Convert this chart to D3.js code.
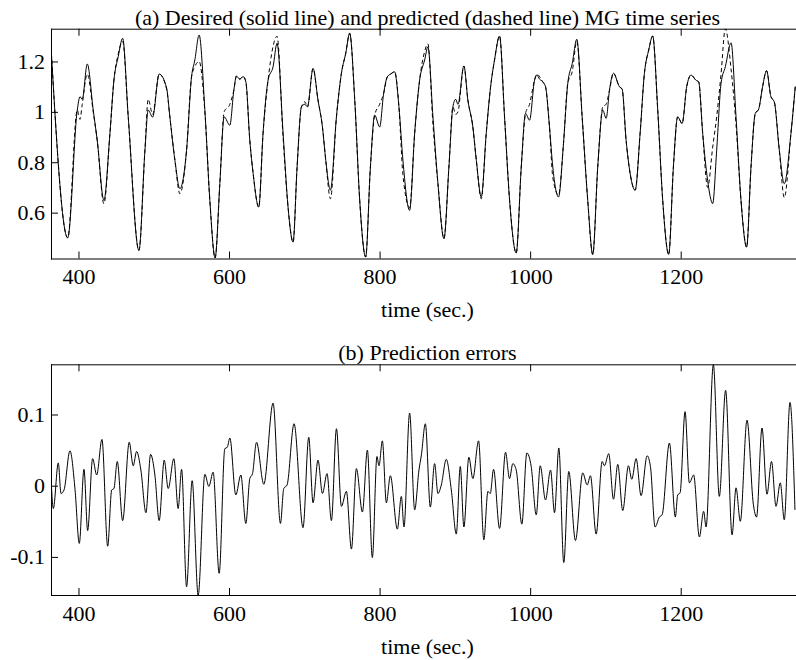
<!DOCTYPE html>
<html>
<head>
<meta charset="utf-8">
<script src="https://cdn.jsdelivr.net/npm/d3@7"></script>
<style>
body { margin: 0; background: #fff; }
text { font-family: "Liberation Serif", "Times New Roman", serif; }
</style>
</head>
<body>
<div id="chart"></div>
<script>

// (a) desired and predicted MG series, time in seconds
var timeA = [363.5,385.7,398.4,402.0,405.0,411.7,419.6,424.9,433.8,441.8,
447.1,452.8,458.7,466.1,480.3,488.3,492.6,498.5,507.2,517.1,
521.4,528.1,534.7,543.6,550.2,554.6,560.3,567.9,574.5,581.5,
587.8,593.5,601.1,606.4,609.9,614.3,618.7,622.3,627.6,632.0,
639.5,645.2,651.9,658.5,663.8,671.8,678.4,685.1,690.4,696.2,
700.6,704.2,711.6,718.2,724.1,728.5,734.7,742.7,749.3,755.0,
760.3,767.0,773.6,781.5,787.8,793.5,800.1,805.4,810.3,814.7,
820.0,825.7,831.0,839.9,846.6,853.2,859.9,864.2,870.9,877.5,
885.5,892.1,897.4,901.0,904.1,912.0,917.3,923.9,928.5,935.1,
941.7,947.5,952.7,959.4,966.0,972.7,981.5,988.2,993.9,999.2,
1005.9,1008.9,1012.5,1016.8,1020.4,1025.7,1030.1,1037.7,1044.3,1050.0,
1055.9,1062.0,1069.1,1076.5,1083.2,1089.8,1096.5,1101.0,1105.4,1110.7,
1118.6,1122.2,1127.5,1132.8,1139.5,1146.1,1151.8,1157.5,1162.8,1169.5,
1176.1,1184.1,1190.3,1196.0,1201.9,1208.0,1213.8,1220.4,1223.9,1229.2,
1235.8,1242.5,1247.8,1253.6,1259.3,1266.9,1273.5,1280.1,1287.6,1293.4,
1299.1,1303.5,1308.8,1314.1,1319.9,1324.3,1331.0,1337.6,1346.5,1352.2];

var desired = [1.26,0.50,1.007,1.06,1.05,1.19,1.007,0.887,0.649,0.915,
1.126,1.219,1.292,0.98,0.45,0.848,1.007,0.979,1.15,1.094,
0.98,0.808,0.695,0.848,1.139,1.206,1.305,1.007,0.649,0.42,
0.716,0.98,0.947,1.086,1.142,1.13,1.14,1.12,0.887,0.756,
0.622,0.915,1.126,1.179,1.272,0.915,0.622,0.483,0.781,1.02,
1.03,1.02,1.172,1.047,0.94,0.808,0.689,0.98,1.153,1.232,
1.312,1.047,0.649,0.424,0.781,0.987,0.94,1.073,1.139,1.15,
1.159,1.02,0.808,0.609,0.915,1.126,1.206,1.258,0.98,0.716,
0.497,0.781,1.02,1.05,1.03,1.182,1.047,0.94,0.808,0.662,
0.915,1.1,1.206,1.301,0.98,0.649,0.44,0.781,0.994,0.967,
1.126,1.146,1.13,1.119,1.10,0.94,0.781,0.662,0.874,1.113,
1.192,1.288,0.98,0.649,0.434,0.781,1.007,0.974,1.086,1.153,
1.1,1.09,0.887,0.756,0.689,0.915,1.153,1.245,1.301,1.007,
0.649,0.434,0.781,0.98,0.954,1.1,1.146,1.125,1.119,0.915,
0.728,0.636,0.848,1.113,1.179,1.274,0.98,0.649,0.463,0.781,
0.994,1.01,1.1,1.163,1.06,1.04,0.848,0.715,0.915,1.1];

var predicted = [1.26,0.50,1.007,0.97,1.03,1.15,1.0,0.887,0.635,0.915,
1.126,1.23,1.28,0.98,0.45,0.848,1.05,0.99,1.15,1.09,
0.98,0.808,0.675,0.848,1.139,1.18,1.2,1.0,0.649,0.42,
0.716,1.0,1.03,1.086,1.142,1.13,1.14,1.12,0.887,0.756,
0.622,0.915,1.126,1.26,1.30,0.9,0.622,0.483,0.781,1.02,
1.04,1.02,1.172,1.047,0.94,0.808,0.655,0.98,1.153,1.232,
1.312,1.047,0.649,0.424,0.781,0.987,1.03,1.073,1.139,1.15,
1.159,1.02,0.75,0.62,0.915,1.126,1.24,1.27,0.95,0.716,
0.497,0.781,1.02,0.99,1.0,1.182,1.047,0.94,0.808,0.655,
0.915,1.1,1.206,1.301,0.98,0.649,0.44,0.781,0.994,1.03,
1.126,1.15,1.14,1.119,1.10,0.94,0.74,0.67,0.874,1.113,
1.16,1.28,0.98,0.649,0.434,0.781,1.02,1.03,1.086,1.153,
1.1,1.09,0.887,0.756,0.689,0.915,1.153,1.245,1.301,1.007,
0.649,0.434,0.781,0.98,0.954,1.1,1.146,1.125,1.119,0.915,
0.70,0.86,0.98,1.15,1.33,1.17,0.95,0.649,0.463,0.781,
0.994,1.01,1.1,1.163,1.06,1.04,0.848,0.66,0.915,1.1];

// (b) prediction errors
var timeB = [363.5,366.6,373.2,376.8,380.8,388.7,395.4,401.1,407.3,412.2,
418.8,424.2,431.2,438.8,444.1,447.1,451.5,458.7,467.4,472.7,
477.2,482.9,489.6,495.8,501.5,507.2,513.9,519.2,526.7,532.4,
537.0,543.6,551.0,559.0,567.9,573.2,578.9,586.9,594.4,597.7,
601.1,609.0,615.7,622.3,627.6,631.2,636.5,646.2,658.5,668.3,
672.7,677.1,686.4,698.3,705.9,711.6,718.2,724.1,730.2,736.0,
742.7,749.3,755.9,762.6,769.2,777.2,783.8,790.4,796.5,799.2,
803.7,809.0,814.3,823.6,828.9,832.4,839.9,846.6,852.3,855.5,
860.8,867.4,873.1,877.5,882.0,888.6,895.3,901.9,907.2,912.0,
918.6,923.9,931.5,938.5,943.9,947.0,951.4,959.4,967.3,972.6,
977.0,981.5,989.0,995.6,1001.4,1008.1,1013.4,1020.4,1027.1,1032.4,
1038.1,1044.7,1051.3,1060.2,1069.9,1075.8,1080.1,1087.7,1095.7,1098.7,
1104.4,1110.7,1116.4,1123.0,1130.6,1135.0,1140.8,1147.4,1155.4,1159.8,
1166.0,1171.7,1175.3,1185.0,1192.9,1196.0,1199.2,1205.8,1211.5,1217.2,
1224.8,1230.5,1233.7,1243.4,1251.3,1259.7,1268.2,1273.5,1279.2,1288.1,
1296.5,1300.8,1308.0,1314.6,1320.7,1326.6,1332.3,1337.6,1345.2,1351.8];

var errors = [0.012,-0.032,0.032,-0.011,-0.006,0.049,-0.005,-0.081,0.023,-0.063,
0.038,0.015,0.065,-0.085,-0.006,-0.004,0.034,-0.049,0.061,0.028,
0.048,0.022,-0.038,0.044,0.015,-0.049,0.036,-0.004,0.038,-0.032,
0.023,-0.142,0.007,-0.154,0.016,-0.001,0.019,-0.123,0.052,0.054,
0.067,-0.013,0.015,-0.053,0.010,0.017,0.061,0.002,0.116,-0.053,
-0.004,0.001,0.087,-0.059,0.068,-0.024,0.036,-0.011,0.017,-0.049,
0.080,-0.029,-0.008,-0.089,0.024,-0.037,0.050,-0.101,0.041,0.028,
0.063,-0.024,0.014,-0.061,-0.015,-0.058,0.102,-0.034,0.022,0.043,
0.087,-0.030,0.031,-0.011,0.001,0.037,-0.006,-0.068,0.027,-0.058,
0.040,0.010,0.063,-0.076,-0.008,-0.011,0.023,-0.060,0.047,0.010,
0.031,0.022,-0.054,0.046,0.027,-0.041,0.028,-0.020,0.022,-0.038,
0.053,-0.108,0.020,-0.077,0.018,0.001,0.014,-0.068,0.034,0.028,
0.045,-0.019,0.030,-0.035,0.028,0.009,0.038,-0.014,0.042,0.027,
-0.058,-0.044,-0.041,0.060,-0.044,-0.013,-0.010,0.104,0.004,0.015,
-0.072,-0.036,-0.058,0.170,-0.015,0.134,-0.069,-0.003,-0.050,0.092,
-0.026,-0.044,0.081,-0.012,0.034,-0.029,0.004,-0.048,0.117,-0.034];

var timeTicks = [400, 600, 800, 1000, 1200];
var ticksA = [0.6, 0.8, 1, 1.2];
var ticksB = [-0.1, 0, 0.1];

var width = 796, height = 660;
var left = 51, right = 804;
var fontSize = "22px";

var svg = d3.select("#chart").append("svg")
	.attr("width", width)
	.attr("height", height);

var x = d3.scaleLinear().domain([363.5, 1363.8]).range([left, right]);

function panel(top, bottom, yDomain, yTicks, title, id) {
	var y = d3.scaleLinear().domain(yDomain).range([bottom, top]);

	svg.append("clipPath").attr("id", id)
		.append("rect")
		.attr("x", left).attr("y", top)
		.attr("width", right - left).attr("height", bottom - top);

	var g = svg.append("g");

	g.append("g")
		.attr("transform", "translate(0," + bottom + ")")
		.call(d3.axisBottom(x).tickValues(timeTicks).tickSize(-7).tickPadding(10).tickFormat(d3.format("d")));
	g.append("g")
		.attr("transform", "translate(0," + top + ")")
		.call(d3.axisTop(x).tickValues(timeTicks).tickSize(-7).tickFormat(""));
	g.append("g")
		.attr("transform", "translate(" + left + ",0)")
		.call(d3.axisLeft(y).tickValues(yTicks).tickSize(-7).tickPadding(6).tickFormat(function (d) { return String(d); }));

	g.selectAll(".domain").remove();
	g.selectAll(".tick line").attr("stroke", "#000");
	g.selectAll(".tick text")
		.attr("fill", "#000")
		.style("font-size", fontSize);

	// box
	g.append("line").attr("x1", left).attr("x2", right).attr("y1", top + 0.5).attr("y2", top + 0.5).attr("stroke", "#000");
	g.append("line").attr("x1", left).attr("x2", right).attr("y1", bottom + 0.5).attr("y2", bottom + 0.5).attr("stroke", "#000");
	g.append("line").attr("x1", left + 0.5).attr("x2", left + 0.5).attr("y1", top).attr("y2", bottom + 1).attr("stroke", "#000");

	g.append("text")
		.attr("x", (left + right) / 2)
		.attr("y", top - 4)
		.attr("text-anchor", "middle")
		.style("font-size", fontSize)
		.text(title);

	g.append("text")
		.attr("x", (left + right) / 2)
		.attr("y", bottom + 58.5)
		.attr("text-anchor", "middle")
		.style("font-size", fontSize)
		.text("time (sec.)");

	return { y: y, g: g };
}

var pa = panel(28.7, 258.5, [0.418, 1.33], ticksA,
	"(a) Desired (solid line) and predicted (dashed line) MG time series", "clipA");
var pb = panel(364.3, 595, [-0.1535, 0.1705], ticksB,
	"(b) Prediction errors", "clipB");

var lineA = d3.line()
	.x(function (d) { return x(d[0]); })
	.y(function (d) { return pa.y(d[1]); })
	.curve(d3.curveMonotoneX);

var lineB = d3.line()
	.x(function (d) { return x(d[0]); })
	.y(function (d) { return pb.y(d[1]); })
	.curve(d3.curveMonotoneX);

pa.g.append("path")
	.datum(d3.zip(timeA, predicted))
	.attr("clip-path", "url(#clipA)")
	.attr("fill", "none")
	.attr("stroke", "#000")
	.attr("stroke-width", 1)
	.attr("stroke-dasharray", "4,3")
	.attr("d", lineA);

pa.g.append("path")
	.datum(d3.zip(timeA, desired))
	.attr("clip-path", "url(#clipA)")
	.attr("fill", "none")
	.attr("stroke", "#000")
	.attr("stroke-width", 1)
	.attr("d", lineA);

pb.g.append("path")
	.datum(d3.zip(timeB, errors))
	.attr("clip-path", "url(#clipB)")
	.attr("fill", "none")
	.attr("stroke", "#000")
	.attr("stroke-width", 1)
	.attr("d", lineB);

</script>
</body>
</html>
